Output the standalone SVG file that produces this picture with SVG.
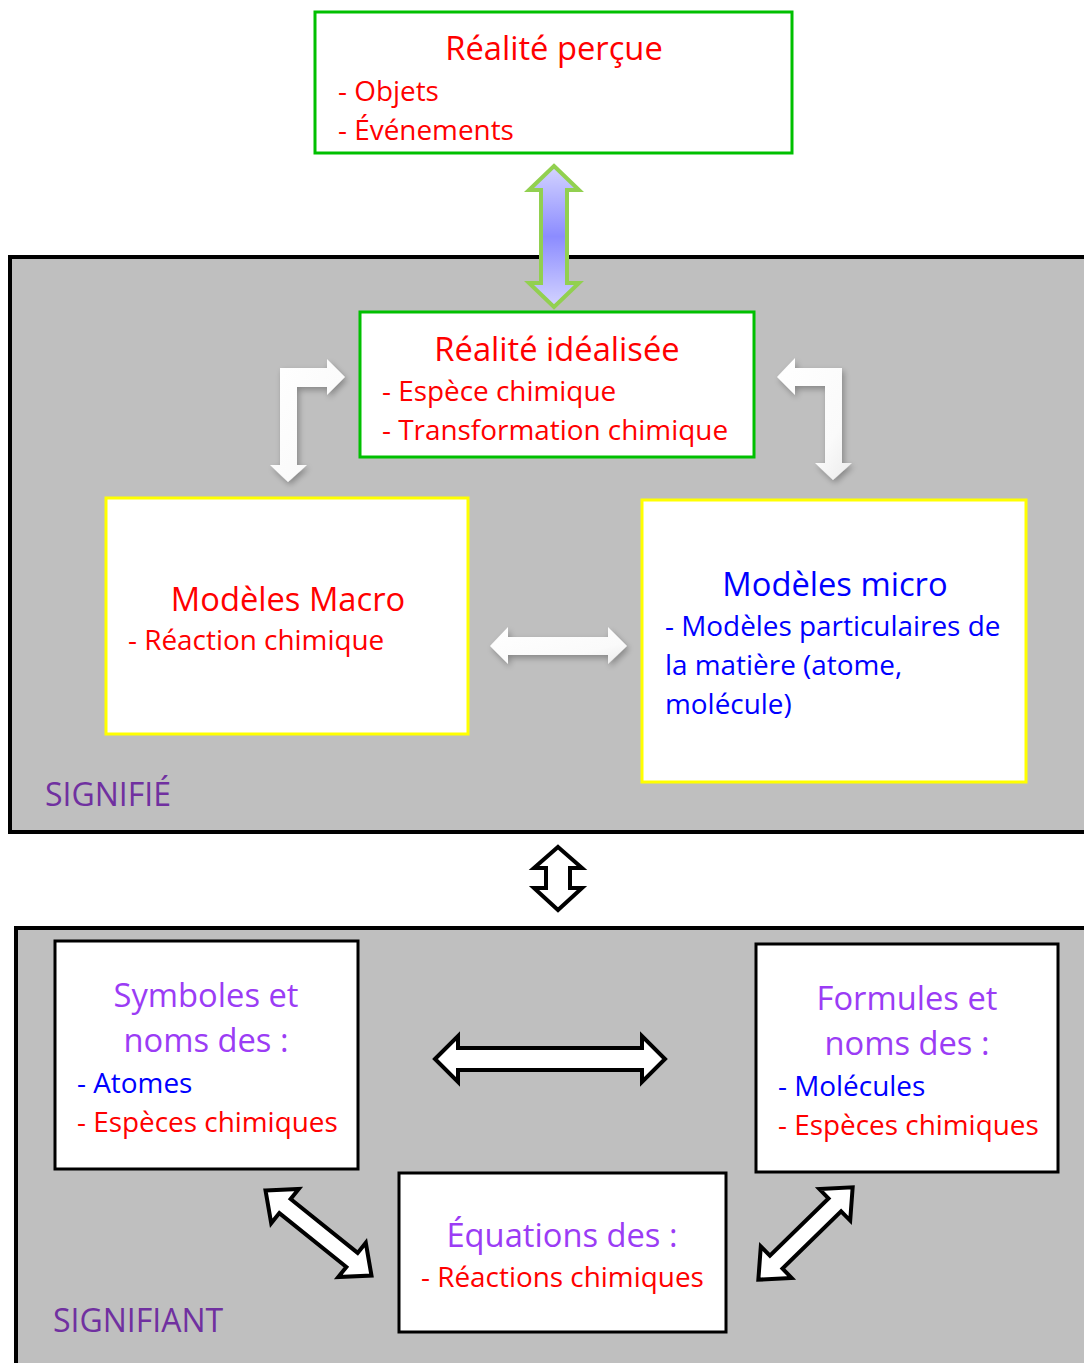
<svg xmlns="http://www.w3.org/2000/svg" width="1084" height="1363" viewBox="0 0 1084 1363">
<defs>
<style>
.t{font-family:"Open Sans","Liberation Sans",sans-serif;}
.title{font-size:32.7px;}
.item{font-size:27.9px;}
.red{fill:#ff0000;}
.blue{fill:#0000ff;}
.purple{fill:#9b3cf5;}
.dark{fill:#7030a0;font-size:32px;}
.panel{fill:#bfbfbf;stroke:#000;stroke-width:4;}
.green{fill:#fff;stroke:#00c000;stroke-width:3;}
.yellow{fill:#fff;stroke:#ffff00;stroke-width:3;}
.black{fill:#fff;stroke:#000;stroke-width:3;}
.barrow{fill:#fff;stroke:#000;stroke-width:4;stroke-linejoin:miter;}
.warrow{fill:url(#wg);filter:url(#sh);}
</style>
<linearGradient id="bg" x1="0" y1="0" x2="0" y2="1">
<stop offset="0" stop-color="#d4d4ff"/>
<stop offset="0.5" stop-color="#8c8cff"/>
<stop offset="1" stop-color="#d4d4ff"/>
</linearGradient>
<linearGradient id="wg" x1="0" y1="0" x2="1" y2="1">
<stop offset="0" stop-color="#ffffff"/>
<stop offset="0.7" stop-color="#fafafa"/>
<stop offset="1" stop-color="#ebebeb"/>
</linearGradient>
<filter id="sh" x="-30%" y="-30%" width="160%" height="160%">
<feGaussianBlur in="SourceAlpha" stdDeviation="3"/>
<feOffset dx="2" dy="3" result="b"/>
<feComponentTransfer><feFuncA type="linear" slope="0.3"/></feComponentTransfer>
<feMerge><feMergeNode/><feMergeNode in="SourceGraphic"/></feMerge>
</filter>
</defs>

<g id="panel-signifie">
<rect class="panel" x="10" y="257" width="1080" height="575"/>
<text class="t dark" x="45" y="806">SIGNIFIÉ</text>
</g>
<g id="panel-signifiant">
<rect class="panel" x="16" y="928" width="1080" height="445"/>
<text class="t dark" x="53" y="1332">SIGNIFIANT</text>
</g>

<g id="connectors">
<path d="M554,166 L579,190 L567,190 L567,283 L579,283 L554,307 L529,283 L541,283 L541,190 L529,190 Z" fill="url(#bg)" stroke="#92d050" stroke-width="4" stroke-linejoin="miter"/>
<path class="warrow" d="M280,368 L327,368 L327,359 L345,377 L327,395 L327,387 L297,387 L297,465 L307,465 L288,482 L270,465 L280,465 Z"/>
<path class="warrow" d="M842,368 L795,368 L795,358 L777,377 L795,395 L795,386 L825,386 L825,463 L815,463 L833,480 L852,463 L842,463 Z"/>
<path class="warrow" d="M490,646 L508,627 L508,637 L608,637 L608,627 L627,646 L608,664 L608,655 L508,655 L508,664 Z"/>
<path class="barrow" d="M558,847 L582,868 L570,868 L570,888 L582,888 L558,910 L534,888 L546,888 L546,868 L534,868 Z"/>
<path class="barrow" d="M435,1059 L458,1036 L458,1048 L642,1048 L642,1036 L665,1059 L642,1082 L642,1070 L458,1070 L458,1082 Z"/>
<g transform="translate(318.5,1233) rotate(38.8)">
<path class="barrow" d="M-68,0 L-43,-22 L-43,-9 L43,-9 L43,-22 L68,0 L43,22 L43,9 L-43,9 L-43,22 Z"/>
</g>
<g transform="translate(805.5,1233.5) rotate(-44.4)">
<path class="barrow" d="M-66,0 L-41,-22 L-41,-9 L41,-9 L41,-22 L66,0 L41,22 L41,9 L-41,9 L-41,22 Z"/>
</g>
</g>

<g id="realite-percue">
<rect class="green" x="315" y="12" width="477" height="141"/>
<text class="t title red" x="554" y="60" text-anchor="middle">Réalité perçue</text>
<text class="t item red" x="338" y="101">- Objets</text>
<text class="t item red" x="338" y="140">- Événements</text>
</g>

<g id="realite-idealisee">
<rect class="green" x="360" y="312" width="394" height="145"/>
<text class="t title red" x="557" y="361" text-anchor="middle">Réalité idéalisée</text>
<text class="t item red" x="382" y="401">- Espèce chimique</text>
<text class="t item red" x="382" y="440">- Transformation chimique</text>
</g>

<g id="modeles-macro">
<rect class="yellow" x="106" y="498" width="362" height="236"/>
<text class="t title red" x="288" y="611" text-anchor="middle">Modèles Macro</text>
<text class="t item red" x="128" y="650">- Réaction chimique</text>
</g>

<g id="modeles-micro">
<rect class="yellow" x="642" y="500" width="384" height="282"/>
<text class="t title blue" x="835" y="596" text-anchor="middle">Modèles micro</text>
<text class="t item blue" x="665" y="636">- Modèles particulaires de</text>
<text class="t item blue" x="665" y="675">la matière (atome,</text>
<text class="t item blue" x="665" y="714">molécule)</text>
</g>

<g id="symboles">
<rect class="black" x="55" y="941" width="303" height="228"/>
<text class="t title purple" x="206" y="1007" text-anchor="middle">Symboles et</text>
<text class="t title purple" x="206" y="1052" text-anchor="middle">noms des :</text>
<text class="t item blue" x="77" y="1093">- Atomes</text>
<text class="t item red" x="77" y="1132">- Espèces chimiques</text>
</g>

<g id="formules">
<rect class="black" x="756" y="944" width="302" height="228"/>
<text class="t title purple" x="907" y="1010" text-anchor="middle">Formules et</text>
<text class="t title purple" x="907" y="1055" text-anchor="middle">noms des :</text>
<text class="t item blue" x="778" y="1096">- Molécules</text>
<text class="t item red" x="778" y="1135">- Espèces chimiques</text>
</g>

<g id="equations">
<rect class="black" x="399" y="1173" width="327" height="159"/>
<text class="t title purple" x="562" y="1247" text-anchor="middle">Équations des :</text>
<text class="t item red" x="421" y="1287">- Réactions chimiques</text>
</g>
</svg>
